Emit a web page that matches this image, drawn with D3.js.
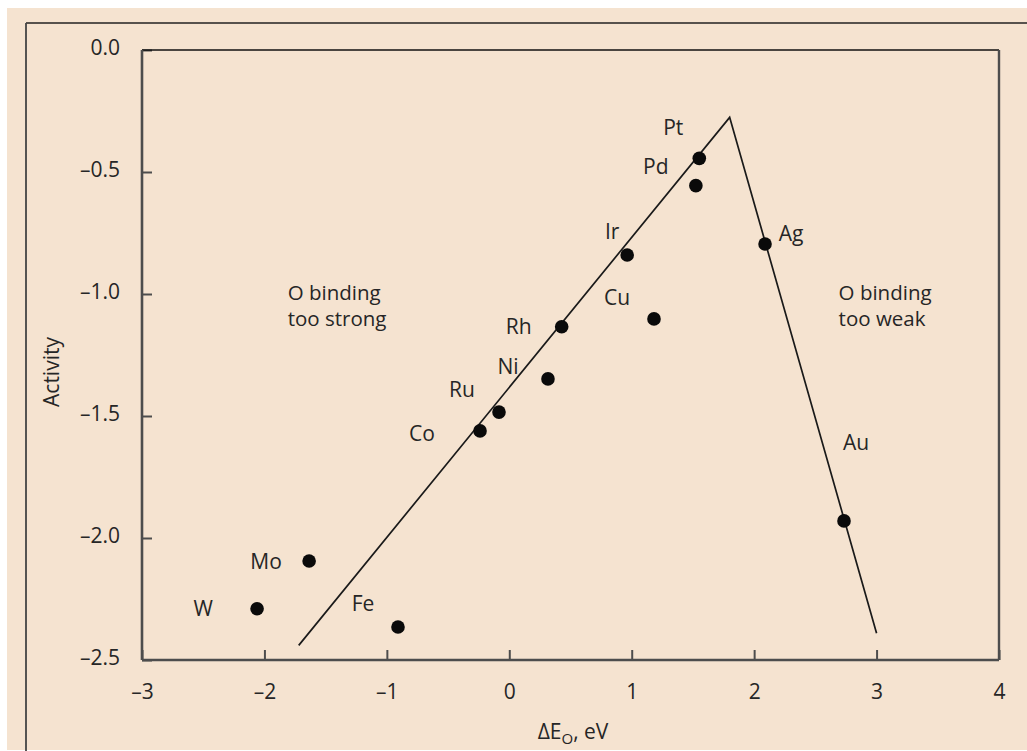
<!DOCTYPE html>
<html>
<head>
<meta charset="utf-8">
<script src="https://cdn.jsdelivr.net/npm/d3@7"></script>
<style>
  html, body { margin: 0; padding: 0; background: #ffffff; }
  svg { display: block; }
  text { font-family: "Open Sans", "Noto Sans", sans-serif; fill: #262626; }
</style>
</head>
<body>
<svg id="chart" width="1027" height="751"></svg>
<script>
// ---- data ----
const metals  = ["W", "Mo", "Fe", "Co", "Ru", "Ni", "Rh", "Cu", "Ir", "Pd", "Pt", "Ag", "Au"];
const deltaEO = [-2.06, -1.635, -0.909, -0.239, -0.084, 0.316, 0.428, 1.182, 0.963, 1.524, 1.552, 2.089, 2.734];
const activity = [-2.29, -2.094, -2.365, -1.561, -1.484, -1.348, -1.134, -1.102, -0.840, -0.556, -0.444, -0.795, -1.930];
const volcanoX = [-1.72, 1.80, 3.0];
const volcanoY = [-2.44, -0.276, -2.39];
const xTicks = [-3, -2, -1, 0, 1, 2, 3, 4];
const yTicks = [0, -0.5, -1.0, -1.5, -2.0, -2.5];
const regionText = [["O binding", "too strong"], ["O binding", "too weak"]];
const regionAnchorX = [-1.81, 2.69];
const regionAnchorY = [-1.025, -1.025];

// ---- layout (pixel offsets for labels, not data) ----
const labelOffset = {
  W: [-54, 0], Mo: [-43, 1], Fe: [-35, -23], Co: [-58, 3], Ru: [-37, -22],
  Ni: [-40, -12], Rh: [-43, 0], Cu: [-37, -21], Ir: [-15, -23], Pd: [-40, -19],
  Pt: [-26, -31], Ag: [26, -10], Au: [12, -78]
};

const svg = d3.select("#chart");
const W = 1027, H = 751;
const box = { left: 142, right: 999, top: 50, bottom: 660 };
const FS = "21px";

// background
svg.append("rect").attr("x", 7).attr("y", 8).attr("width", W - 7).attr("height", 742)
  .attr("fill", "#f5e3d0");
// outer frame lines
svg.append("line").attr("x1", 26).attr("x2", W).attr("y1", 23).attr("y2", 23)
  .attr("stroke", "#222").attr("stroke-width", 1.5);
svg.append("line").attr("x1", 26).attr("x2", 26).attr("y1", 23).attr("y2", H)
  .attr("stroke", "#444").attr("stroke-width", 1.8);

const x = d3.scaleLinear().domain([-3, 4]).range([box.left, box.right]);
const y = d3.scaleLinear().domain([-2.5, 0]).range([box.bottom, box.top]);

const fmtY = d => d === 0 ? "0.0" : "\u2013" + Math.abs(d).toFixed(1);
const fmtX = d => d < 0 ? "\u2013" + Math.abs(d) : String(d);

// x axis (ticks pointing up, inside)
const gx = svg.append("g").attr("transform", `translate(0,${box.bottom})`)
  .call(d3.axisBottom(x).tickValues(xTicks).tickSize(-10).tickPadding(24).tickFormat(fmtX));
gx.select(".domain").remove();
gx.selectAll(".tick line").attr("stroke", "#4d4d4d").attr("stroke-width", 2);
gx.selectAll(".tick text").style("font-size", FS).attr("fill", "#262626")
  .attr("font-family", "Open Sans");

// y axis (ticks pointing right, inside)
const gy = svg.append("g").attr("transform", `translate(${box.left},0)`)
  .call(d3.axisLeft(y).tickValues(yTicks).tickSize(-10).tickPadding(22).tickFormat(fmtY));
gy.select(".domain").remove();
gy.selectAll(".tick line").attr("stroke", "#4d4d4d").attr("stroke-width", 2);
gy.selectAll(".tick text").style("font-size", FS).attr("fill", "#262626")
  .attr("dy", "0.22em").attr("font-family", "Open Sans");

// plot box
svg.append("line").attr("x1", box.left).attr("x2", box.right).attr("y1", box.top).attr("y2", box.top)
  .attr("stroke", "#111").attr("stroke-width", 1.6);
svg.append("line").attr("x1", box.right).attr("x2", box.right).attr("y1", box.top).attr("y2", box.bottom)
  .attr("stroke", "#4d4d4d").attr("stroke-width", 2.4);
svg.append("line").attr("x1", box.left).attr("x2", box.left).attr("y1", box.top).attr("y2", box.bottom)
  .attr("stroke", "#4d4d4d").attr("stroke-width", 2.6);
svg.append("line").attr("x1", box.left).attr("x2", box.right).attr("y1", box.bottom).attr("y2", box.bottom)
  .attr("stroke", "#4d4d4d").attr("stroke-width", 2.6);

// volcano line
const vpts = volcanoX.map((v, i) => [v, volcanoY[i]]);
svg.append("path").datum(vpts)
  .attr("d", d3.line().x(d => x(d[0])).y(d => y(d[1])))
  .attr("fill", "none").attr("stroke", "#1a1a1a").attr("stroke-width", 1.7);

// points
const pts = metals.map((m, i) => ({ m, xv: deltaEO[i], yv: activity[i] }));
svg.append("g").selectAll("circle").data(pts).join("circle")
  .attr("cx", d => x(d.xv)).attr("cy", d => y(d.yv)).attr("r", 6.8)
  .attr("fill", "#0a0a0a");

// point labels
svg.append("g").selectAll("text").data(pts).join("text")
  .attr("x", d => x(d.xv) + labelOffset[d.m][0])
  .attr("y", d => y(d.yv) + labelOffset[d.m][1])
  .attr("text-anchor", "middle").attr("dy", "0.35em")
  .style("font-size", FS)
  .text(d => d.m);

// region texts (one text element per line)
regionText.forEach((lines, i) => {
  lines.forEach((ln, j) => {
    svg.append("text")
      .attr("x", x(regionAnchorX[i]))
      .attr("y", y(regionAnchorY[i]) + j * 26)
      .style("font-size", "20.5px")
      .text(ln);
  });
});

// axis titles
svg.append("text").attr("transform", "translate(59,372) rotate(-90)")
  .attr("text-anchor", "middle").style("font-size", FS).text("Activity");

const xt = svg.append("text").attr("x", 573).attr("y", 739).attr("text-anchor", "middle")
  .style("font-size", FS);
xt.append("tspan").text("\u0394E");
xt.append("tspan").attr("dy", 5).style("font-size", "15px").text("O");
xt.append("tspan").attr("dy", -5).text(", eV");
</script>
</body>
</html>
